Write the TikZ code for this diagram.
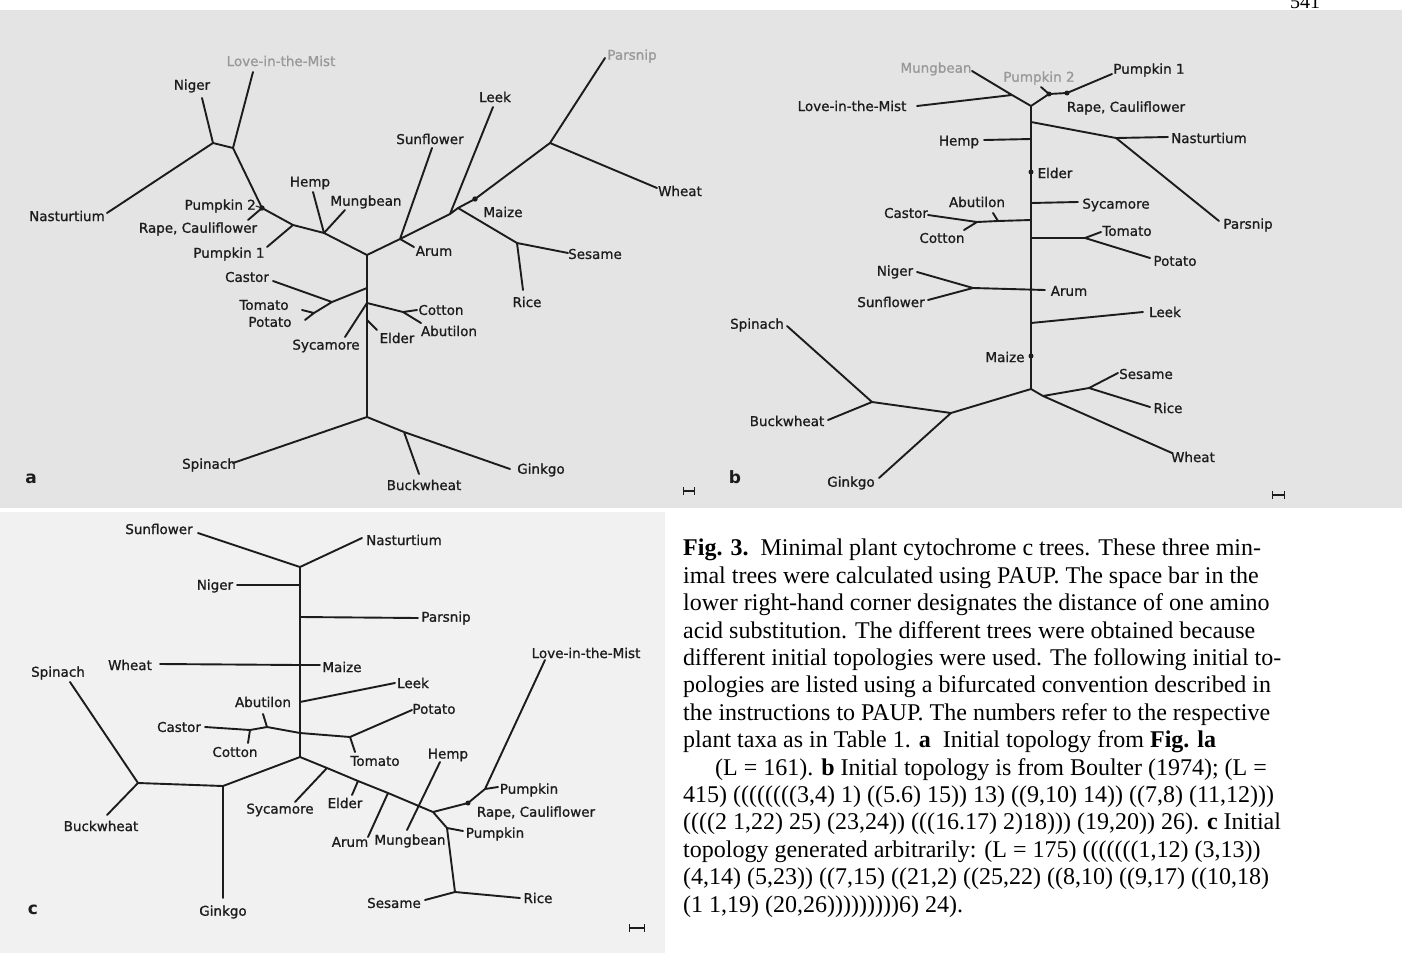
\documentclass[tikz,border=0pt]{standalone}
\usepackage{fontspec}
\setmainfont{Liberation Serif}
\setsansfont{DejaVu Sans}
\newfontfamily\lblfont[FakeBold=1]{DejaVu Sans}
\definecolor{ink}{HTML}{1C1C1C}
\definecolor{photo}{HTML}{E4E4E4}
\definecolor{photoc}{HTML}{F1F1F1}

\begin{document}
\begin{tikzpicture}[x=1pt,y=-1pt,
	br/.style={line width=1.9pt,draw=ink,line cap=round,line join=round},
	lbl/.style={font=\lblfont\fontsize{13.5}{15}\selectfont,text=ink,inner sep=0pt},
	faint/.style={lbl,text=ink!45},
	tag/.style={font=\sffamily\bfseries\fontsize{17}{20}\selectfont,text=ink},
	bar/.style={line width=1.2pt,draw=ink,|-|}]
	\useasboundingbox (0,0) rectangle (1402,953);
	\fill[white] (0,0) rectangle (1402,953);
	\fill[photo] (0,10) rectangle (1402,508);
	\fill[photoc] (0,512) rectangle (665,953);
	\node[font=\fontsize{20}{20}\selectfont] (pg) at (1305,2) {541};

	% a
	\coordinate (aN1) at (213,143); \coordinate (aN2) at (233,148);
	\coordinate (aP2) at (262,208); \coordinate (aP1) at (293,225);
	\coordinate (aHM) at (324,233); \coordinate (aC) at (367,255);
	\coordinate (aSA) at (400,239); \coordinate (aL) at (450,214);
	\coordinate (aMS) at (458,208); \coordinate (aMz) at (475,199);
	\coordinate (aPW) at (550,143); \coordinate (aSR) at (517,243);
	\coordinate (aCT) at (367,288); \coordinate (aE) at (367,303);
	\coordinate (aEl) at (367,320); \coordinate (aB) at (367,417);
	\coordinate (aCP) at (332,302); \coordinate (aTP) at (314,313);
	\coordinate (aCo) at (403,312); \coordinate (aBw) at (404,432);
	\coordinate (aLovT) at (253,72); \coordinate (aNigT) at (202,98);
	\coordinate (aNasT) at (107,213); \coordinate (aRapT) at (248,220);
	\coordinate (aPk1T) at (267,247); \coordinate (aHemT) at (313,192);
	\coordinate (aMunT) at (345,210); \coordinate (aSunT) at (432,148);
	\coordinate (aAruT) at (414,247); \coordinate (aLeeT) at (493,107);
	\coordinate (aParT) at (605,58); \coordinate (aWheT) at (657,188);
	\coordinate (aSesT) at (568,253); \coordinate (aRicT) at (523,290);
	\coordinate (aCasT) at (273,281); \coordinate (aTomT) at (302,310);
	\coordinate (aPotT) at (305,320); \coordinate (aSycT) at (345,337);
	\coordinate (aCotT) at (417,310); \coordinate (aAbuT) at (421,323);
	\coordinate (aEldT) at (377,330); \coordinate (aSpiT) at (233,463);
	\coordinate (aGinT) at (510,469); \coordinate (aBucT) at (419,474);
	\draw[br] (aNasT) -- (aN1) -- (aN2) -- (aP2) -- (aP1) -- (aHM) -- (aC) -- (aSA) -- (aL) -- (aMS) -- (aMz) -- (aPW) -- (aParT)
		(aNigT) -- (aN1) (aLovT) -- (aN2) (aRapT) -- (aP2) (aPk1T) -- (aP1) (aHemT) -- (aHM) -- (aMunT)
		(aSunT) -- (aSA) -- (aAruT) (aLeeT) -- (aL) (aMS) -- (aSR) -- (aSesT) (aSR) -- (aRicT) (aPW) -- (aWheT)
		(aC) -- (aCT) -- (aE) -- (aEl) -- (aB) (aCT) -- (aCP) -- (aCasT) (aCP) -- (aTP) -- (aTomT) (aTP) -- (aPotT)
		(aE) -- (aSycT) (aE) -- (aCo) -- (aAbuT) (aCo) -- (aCotT) (aEl) -- (aEldT)
		(aSpiT) -- (aB) -- (aBw) -- (aGinT) (aBw) -- (aBucT);
	\fill[ink] (aP2) circle (2.7) (aMz) circle (2.7);
	\node[faint] (aLove) at (281,61) {Love-in-the-Mist};
	\node[lbl] (aNig) at (192,86) {Niger};
	\node[lbl] (aNas) at (67,216) {Nasturtium};
	\node[lbl,anchor=east] (aPk2) at (256,206) {Pumpkin 2};
	\draw[br,line width=1pt] (aPk2.east) -- (aP2);
	\node[lbl] (aRap) at (198,229) {Rape, Cauliflower};
	\node[lbl] (aPk1) at (229,254) {Pumpkin 1};
	\node[lbl] (aHem) at (310,183) {Hemp};
	\node[lbl] (aMun) at (366,202) {Mungbean};
	\node[lbl] (aSun) at (430,139) {Sunflower};
	\node[lbl] (aAru) at (434,251) {Arum};
	\node[lbl] (aLee) at (495,97) {Leek};
	\node[lbl] (aMai) at (503,212) {Maize};
	\node[faint] (aPar) at (632,56) {Parsnip};
	\node[lbl] (aWhe) at (680,191) {Wheat};
	\node[lbl] (aSes) at (595,254) {Sesame};
	\node[lbl] (aRic) at (527,302) {Rice};
	\node[lbl] (aCas) at (247,277) {Castor};
	\node[lbl] (aTom) at (264,305) {Tomato};
	\node[lbl] (aPot) at (270,322) {Potato};
	\node[lbl] (aSyc) at (326,346) {Sycamore};
	\node[lbl] (aCot) at (441,310) {Cotton};
	\node[lbl] (aAbu) at (449,331) {Abutilon};
	\node[lbl] (aEld) at (397,338) {Elder};
	\node[lbl] (aSpi) at (209,465) {Spinach};
	\node[lbl] (aBuc) at (424,485) {Buckwheat};
	\node[lbl] (aGin) at (541,470) {Ginkgo};
	\node[tag] (aTag) at (31,479) {a};
	\draw[bar] (683,491) -- (695,491);

	% b
	\coordinate (bT) at (1031,106); \coordinate (bLJ) at (1012,95);
	\coordinate (bD1) at (1049,94); \coordinate (bD2) at (1067,93);
	\coordinate (bNB) at (1031,122); \coordinate (bNP) at (1116,138);
	\coordinate (bHe) at (1031,139); \coordinate (bEl) at (1031,172);
	\coordinate (bSy) at (1031,203); \coordinate (bCa) at (1031,220);
	\coordinate (bAb) at (998,221); \coordinate (bCC) at (977,222);
	\coordinate (bTo) at (1031,238); \coordinate (bTP) at (1085,238);
	\coordinate (bAr) at (1031,290); \coordinate (bNS) at (973,288);
	\coordinate (bLe) at (1031,323); \coordinate (bMz) at (1031,356);
	\coordinate (bB) at (1031,389); \coordinate (bW0) at (1043,396);
	\coordinate (bSR) at (1089,388); \coordinate (bG) at (951,413);
	\coordinate (bSB) at (872,402);
	\coordinate (bMunT) at (972,71); \coordinate (bLovT) at (917,106);
	\coordinate (bPk1T) at (1112,74); \coordinate (bPk2T) at (1041,87);
	\coordinate (bNasT) at (1168,137); \coordinate (bParT) at (1219,221);
	\coordinate (bHemT) at (984,140); \coordinate (bSycT) at (1078,202);
	\coordinate (bCasT) at (928,215); \coordinate (bAbuT) at (993,213);
	\coordinate (bCotT) at (964,230); \coordinate (bTomT) at (1101,232);
	\coordinate (bPotT) at (1150,258); \coordinate (bAruT) at (1045,290);
	\coordinate (bNigT) at (917,272); \coordinate (bSunT) at (928,300);
	\coordinate (bLeeT) at (1143,312); \coordinate (bWheT) at (1172,453);
	\coordinate (bSesT) at (1118,373); \coordinate (bRicT) at (1150,407);
	\coordinate (bGinT) at (879,478); \coordinate (bSpiT) at (787,326);
	\coordinate (bBucT) at (828,420);
	\draw[br] (bMunT) -- (bLJ) -- (bT) -- (bD1) -- (bD2) -- (bPk1T) (bLovT) -- (bLJ) (bPk2T) -- (bD1)
		(bT) -- (bNB) -- (bHe) -- (bEl) -- (bSy) -- (bCa) -- (bTo) -- (bAr) -- (bLe) -- (bMz) -- (bB)
		(bNB) -- (bNP) -- (bNasT) (bNP) -- (bParT) (bHemT) -- (bHe) (bSy) -- (bSycT)
		(bCa) -- (bAb) -- (bCC) -- (bCasT) (bAb) -- (bAbuT) (bCC) -- (bCotT)
		(bTo) -- (bTP) -- (bTomT) (bTP) -- (bPotT) (bNigT) -- (bNS) -- (bAruT) (bSunT) -- (bNS)
		(bLe) -- (bLeeT) (bB) -- (bW0) -- (bWheT) (bW0) -- (bSR) -- (bSesT) (bSR) -- (bRicT)
		(bB) -- (bG) -- (bGinT) (bG) -- (bSB) -- (bSpiT) (bSB) -- (bBucT);
	\fill[ink] (bD1) circle (2.5) (bD2) circle (2.5) (bEl) circle (2.5) (bMz) circle (2.5);
	\node[faint] (bMun) at (936,69) {Mungbean};
	\node[lbl] (bLove) at (852,106) {Love-in-the-Mist};
	\node[faint] (bPk2) at (1039,78) {Pumpkin 2};
	\node[lbl] (bPk1) at (1149,70) {Pumpkin 1};
	\node[lbl] (bRap) at (1126,108) {Rape, Cauliflower};
	\node[lbl] (bNas) at (1209,138) {Nasturtium};
	\node[lbl] (bPar) at (1248,225) {Parsnip};
	\node[lbl] (bHem) at (959,142) {Hemp};
	\node[lbl] (bEld) at (1055,173) {Elder};
	\node[lbl] (bSyc) at (1116,205) {Sycamore};
	\node[lbl] (bCas) at (906,213) {Castor};
	\node[lbl] (bAbu) at (977,202) {Abutilon};
	\node[lbl] (bCot) at (942,238) {Cotton};
	\node[lbl] (bTom) at (1127,231) {Tomato};
	\node[lbl] (bPot) at (1175,261) {Potato};
	\node[lbl] (bAru) at (1069,291) {Arum};
	\node[lbl] (bNig) at (895,272) {Niger};
	\node[lbl] (bSun) at (891,302) {Sunflower};
	\node[lbl] (bLee) at (1165,312) {Leek};
	\node[lbl] (bMai) at (1005,357) {Maize};
	\node[lbl] (bSes) at (1146,374) {Sesame};
	\node[lbl] (bRic) at (1168,408) {Rice};
	\node[lbl] (bWhe) at (1193,457) {Wheat};
	\node[lbl] (bGin) at (851,483) {Ginkgo};
	\node[lbl] (bSpi) at (757,325) {Spinach};
	\node[lbl] (bBuc) at (787,421) {Buckwheat};
	\node[tag] (bTag) at (735,477) {b};
	\draw[bar] (1272,495) -- (1285,495);

	% c
	\coordinate (cT) at (300,567); \coordinate (cNi) at (300,585);
	\coordinate (cPa) at (300,617); \coordinate (cMz) at (300,665);
	\coordinate (cLe) at (300,702); \coordinate (cX) at (300,733);
	\coordinate (cB) at (300,757); \coordinate (cG) at (223,786);
	\coordinate (cSB) at (138,783); \coordinate (cCo) at (250,730);
	\coordinate (cAb) at (267,727); \coordinate (cTP) at (350,737);
	\coordinate (cSyJ) at (327,768); \coordinate (cElJ) at (358,781);
	\coordinate (cArJ) at (388,793); \coordinate (cR) at (433,812);
	\coordinate (cRa) at (468,803); \coordinate (cPk) at (485,789);
	\coordinate (cPl) at (447,828); \coordinate (cSR) at (455,892);
	\coordinate (cSunT) at (198,533); \coordinate (cNasT) at (362,538);
	\coordinate (cNigT) at (237,585); \coordinate (cParT) at (418,618);
	\coordinate (cWheT) at (160,664); \coordinate (cMaiT) at (320,665);
	\coordinate (cLeeT) at (395,683); \coordinate (cCasT) at (205,727);
	\coordinate (cCotT) at (248,743); \coordinate (cAbuT) at (263,714);
	\coordinate (cPotT) at (412,710); \coordinate (cTomT) at (355,752);
	\coordinate (cGinT) at (223,898); \coordinate (cSpiT) at (70,682);
	\coordinate (cBucT) at (107,815); \coordinate (cSycT) at (295,802);
	\coordinate (cEldT) at (352,795); \coordinate (cAruT) at (368,837);
	\coordinate (cHemT) at (440,762); \coordinate (cMunT) at (407,830);
	\coordinate (cPkT) at (498,787); \coordinate (cLovT) at (545,660);
	\coordinate (cPlT) at (463,831); \coordinate (cSesT) at (425,900);
	\coordinate (cRicT) at (520,898);
	\draw[br] (cSunT) -- (cT) -- (cNasT) (cT) -- (cNi) -- (cPa) -- (cMz) -- (cLe) -- (cX) -- (cB)
		(cNi) -- (cNigT) (cPa) -- (cParT) (cWheT) -- (cMz) -- (cMaiT) (cLe) -- (cLeeT)
		(cCasT) -- (cCo) -- (cAb) -- (cX) -- (cTP) -- (cPotT) (cCo) -- (cCotT) (cAb) -- (cAbuT) (cTP) -- (cTomT)
		(cB) -- (cG) -- (cGinT) (cG) -- (cSB) -- (cSpiT) (cSB) -- (cBucT)
		(cB) -- (cSyJ) -- (cElJ) -- (cArJ) -- (cR) (cSyJ) -- (cSycT) (cElJ) -- (cEldT) (cArJ) -- (cAruT)
		(cHemT) -- (cMunT)
		(cR) -- (cRa) -- (cPk) -- (cLovT) (cPk) -- (cPkT)
		(cR) -- (cPl) -- (cSR) -- (cSesT) (cPl) -- (cPlT) (cSR) -- (cRicT);
	\fill[ink] (cRa) circle (2.5);
	\node[lbl] (cSun) at (159,529) {Sunflower};
	\node[lbl] (cNas) at (404,540) {Nasturtium};
	\node[lbl] (cNig) at (215,586) {Niger};
	\node[lbl] (cPar) at (446,618) {Parsnip};
	\node[lbl] (cWhe) at (130,665) {Wheat};
	\node[lbl] (cMai) at (342,667) {Maize};
	\node[lbl] (cLee) at (413,683) {Leek};
	\node[lbl] (cAbu) at (263,702) {Abutilon};
	\node[lbl] (cCas) at (179,727) {Castor};
	\node[lbl] (cCot) at (235,752) {Cotton};
	\node[lbl] (cPot) at (434,709) {Potato};
	\node[lbl] (cTom) at (375,761) {Tomato};
	\node[lbl] (cSpi) at (58,673) {Spinach};
	\node[lbl] (cBuc) at (101,826) {Buckwheat};
	\node[lbl] (cGin) at (223,912) {Ginkgo};
	\node[lbl] (cSyc) at (280,810) {Sycamore};
	\node[lbl] (cEld) at (345,803) {Elder};
	\node[lbl] (cAru) at (350,842) {Arum};
	\node[lbl] (cMun) at (410,841) {Mungbean};
	\node[lbl] (cHem) at (448,755) {Hemp};
	\node[lbl] (cLove) at (586,653) {Love-in-the-Mist};
	\node[lbl] (cPk1) at (529,790) {Pumpkin};
	\node[lbl] (cRap) at (536,813) {Rape, Cauliflower};
	\node[lbl] (cPk2) at (495,834) {Pumpkin};
	\node[lbl] (cSes) at (394,903) {Sesame};
	\node[lbl] (cRic) at (538,898) {Rice};
	\node[tag] (cTag) at (33,910) {c};
	\draw[bar] (629,928) -- (645,928);

	\node[anchor=north west,align=left,inner sep=0pt,font=\fontsize{24}{27.4}\selectfont] (cap) at (683,539)
	{\textbf{Fig. 3.}\ \ Minimal plant cytochrome c trees. These three min-\\
	imal trees were calculated using PAUP. The space bar in the\\
	lower right-hand corner designates the distance of one amino\\
	acid substitution. The different trees were obtained because\\
	different initial topologies were used. The following initial to-\\
	pologies are listed using a bifurcated convention described in\\
	the instructions to PAUP. The numbers refer to the respective\\
	plant taxa as in Table 1. \textbf{a}\ \ Initial topology from \textbf{Fig. la}\\
	\hspace*{32pt}(L = 161). \textbf{b} Initial topology is from Boulter (1974); (L =\\
	415) ((((((((3,4) 1) ((5.6) 15)) 13) ((9,10) 14)) ((7,8) (11,12)))\\
	((((2 1,22) 25) (23,24)) (((16.17) 2)18))) (19,20)) 26). \textbf{c} Initial\\
	topology generated arbitrarily: (L = 175) (((((((1,12) (3,13))\\
	(4,14) (5,23)) ((7,15) ((21,2) ((25,22) ((8,10) ((9,17) ((10,18)\\
	(1 1,19) (20,26)))))))))6) 24).};
\end{tikzpicture}
\end{document}
